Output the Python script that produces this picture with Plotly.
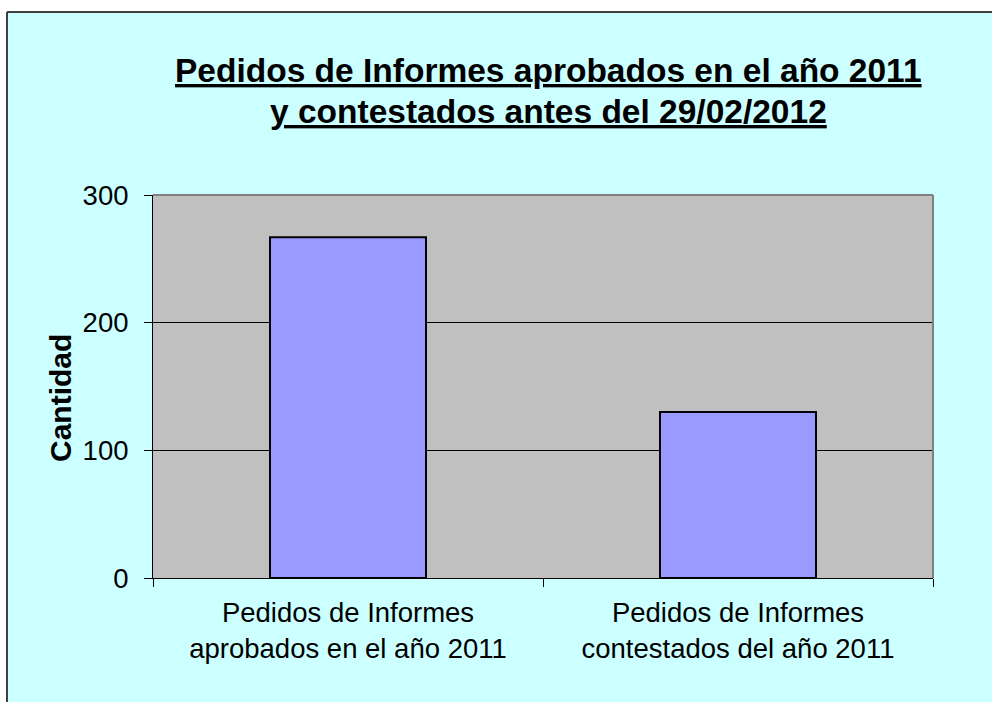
import plotly.graph_objects as go

# ---- data ----
categories = [
    "Pedidos de Informes<br>aprobados en el año 2011",
    "Pedidos de Informes<br>contestados del año 2011",
]
values = [267, 130]
y_ticks = [0, 100, 200, 300]
title_lines = [
    "Pedidos de Informes aprobados en el año 2011",
    "y contestados antes del 29/02/2012",
]
y_title = "Cantidad"

# ---- layout geometry (pixels) ----
W, H = 992, 702
L, R, T, B = 153, 933, 195, 578


def px_x(px):
    return (px - L) / (R - L)


def px_y(py):
    return (B - py) / (B - T)


FONT = "Liberation Sans, Arial, sans-serif"

fig = go.Figure(
    go.Bar(
        x=categories,
        y=values,
        marker=dict(color="#9999FF", line=dict(color="#000000", width=2)),
        hoverinfo="skip",
    )
)

fig.update_layout(
    width=W,
    height=H,
    margin=dict(l=L, r=W - R, t=T, b=H - B, pad=0),
    paper_bgcolor="#CCFFFF",
    plot_bgcolor="#C0C0C0",
    bargap=0.6,
    showlegend=False,
    font=dict(family=FONT, color="#000000"),
)

fig.update_xaxes(
    showline=True,
    linecolor="#000000",
    linewidth=1,
    ticks="outside",
    tickson="boundaries",
    ticklen=8,
    tickcolor="#000000",
    tickfont=dict(family=FONT, size=27.5, color="#000000"),
    ticklabelstandoff=10,
    showgrid=False,
)
fig.update_yaxes(
    range=[0, 300],
    tickvals=y_ticks,
    showline=True,
    linecolor="#000000",
    linewidth=1,
    ticks="outside",
    ticklen=8,
    tickcolor="#000000",
    tickfont=dict(family=FONT, size=27.5, color="#000000"),
    ticklabelstandoff=10,
    showgrid=True,
    gridcolor="#000000",
    gridwidth=1,
    zeroline=False,
)

# title lines as annotations
for line, cy in zip(title_lines, [70, 111]):
    fig.add_annotation(
        text="<b><u>" + line + "</u></b>",
        xref="paper",
        yref="paper",
        x=px_x(548),
        y=px_y(cy),
        xanchor="center",
        yanchor="middle",
        showarrow=False,
        font=dict(family=FONT, size=33.5, color="#000000"),
    )

# y-axis title as rotated annotation
fig.add_annotation(
    text="<b>" + y_title + "</b>",
    xref="paper",
    yref="paper",
    x=px_x(60),
    y=px_y(398),
    xanchor="center",
    yanchor="middle",
    textangle=-90,
    showarrow=False,
    font=dict(family=FONT, size=30, color="#000000"),
)

# white margin outside chart frame and frame border lines
fig.add_shape(type="rect", xref="paper", yref="paper",
              x0=px_x(-5), x1=px_x(7), y0=px_y(H + 5), y1=px_y(-5),
              fillcolor="#FFFFFF", line=dict(width=0), layer="above")
fig.add_shape(type="rect", xref="paper", yref="paper",
              x0=px_x(-5), x1=px_x(W + 5), y0=px_y(12), y1=px_y(-5),
              fillcolor="#FFFFFF", line=dict(width=0), layer="above")
fig.add_shape(type="line", xref="paper", yref="paper",
              x0=px_x(7), x1=px_x(W + 5), y0=px_y(12), y1=px_y(12),
              line=dict(color="#404040", width=2), layer="above")
fig.add_shape(type="line", xref="paper", yref="paper",
              x0=px_x(7), x1=px_x(7), y0=px_y(12), y1=px_y(H + 5),
              line=dict(color="#404040", width=2), layer="above")

# grey top and right borders of plot area
fig.add_shape(type="line", xref="paper", yref="paper",
              x0=0, x1=1, y0=1, y1=1,
              line=dict(color="#808080", width=2), layer="above")
fig.add_shape(type="line", xref="paper", yref="paper",
              x0=1, x1=1, y0=0, y1=1,
              line=dict(color="#808080", width=2), layer="above")

fig.write_html(
    "out.html",
    config={"displayModeBar": False},
    post_script="document.body.style.margin='0';document.body.style.overflow='hidden';",
)
